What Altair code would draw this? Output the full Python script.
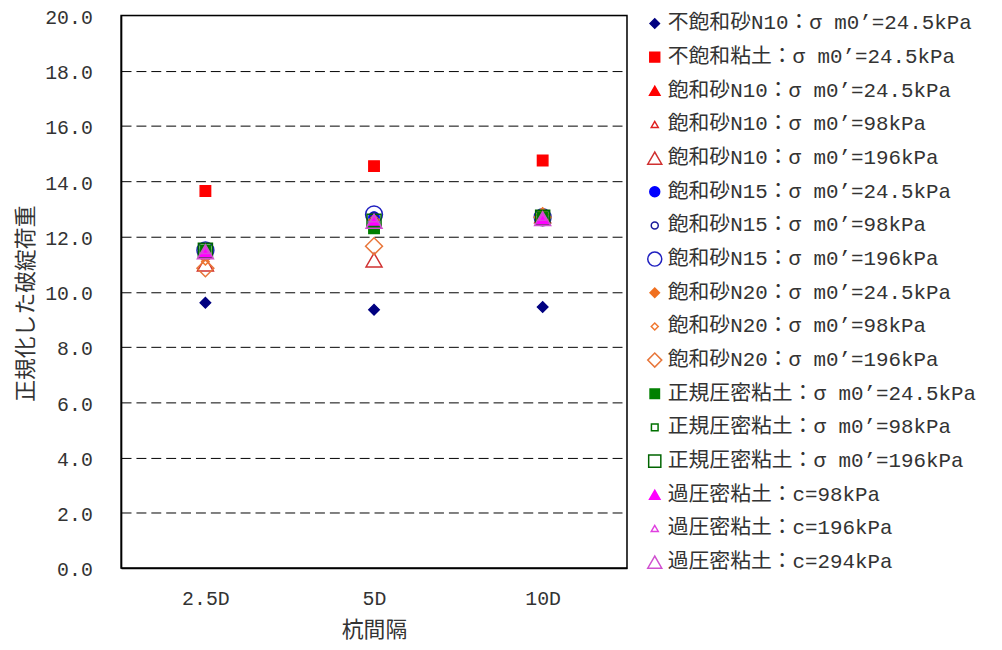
import altair as alt
import pandas as pd

# ---- data ----
categories = ["2.5D", "5D", "10D"]

series_names = [
    "不飽和砂N10：σ m0’=24.5kPa",
    "不飽和粘土：σ m0’=24.5kPa",
    "飽和砂N10：σ m0’=24.5kPa",
    "飽和砂N10：σ m0’=98kPa",
    "飽和砂N10：σ m0’=196kPa",
    "飽和砂N15：σ m0’=24.5kPa",
    "飽和砂N15：σ m0’=98kPa",
    "飽和砂N15：σ m0’=196kPa",
    "飽和砂N20：σ m0’=24.5kPa",
    "飽和砂N20：σ m0’=98kPa",
    "飽和砂N20：σ m0’=196kPa",
    "正規圧密粘土：σ m0’=24.5kPa",
    "正規圧密粘土：σ m0’=98kPa",
    "正規圧密粘土：σ m0’=196kPa",
    "過圧密粘土：c=98kPa",
    "過圧密粘土：c=196kPa",
    "過圧密粘土：c=294kPa",
]

# values at 2.5D, 5D, 10D for each series
series_values = [
    [9.60, 9.35, 9.45],
    [13.65, 14.55, 14.75],
    [11.50, 12.60, 12.75],
    [11.30, 12.50, 12.70],
    [11.00, 11.15, 12.75],
    [11.50, 12.70, 12.70],
    [11.50, 12.75, 12.70],
    [11.50, 12.80, 12.70],
    [11.45, 12.60, 12.85],
    [11.10, 12.50, 12.70],
    [10.85, 11.65, 12.70],
    [11.50, 12.30, 12.70],
    [11.55, 12.50, 12.70],
    [11.50, 12.55, 12.70],
    [11.45, 12.60, 12.65],
    [11.50, 12.65, 12.70],
    [11.45, 12.55, 12.65],
]

# ---- marker styles ----
shapes = ["diamond", "square", "triangle-up", "triangle-up", "triangle-up",
          "circle", "circle", "circle", "diamond", "diamond", "diamond",
          "square", "square", "square", "triangle-up", "triangle-up", "triangle-up"]
strokes = ["#000080", "#FF0000", "#FF0000", "#E02020", "#D03030",
           "#0000FF", "#1A1A9A", "#2020C0", "#F07020", "#F07830", "#E8763A",
           "#008000", "#007000", "#006400", "#FF00FF", "#E040E0", "#D050D0"]
fills = ["#000080", "#FF0000", "#FF0000", "transparent", "transparent",
         "#0000FF", "transparent", "transparent", "#F07020", "transparent", "transparent",
         "#008000", "transparent", "transparent", "#FF00FF", "transparent", "transparent"]
sizes = [110, 110, 130, 55, 260, 110, 55, 290, 110, 55, 290, 110, 50, 200, 140, 55, 260]
legend_sizes = [90, 100, 110, 50, 200, 100, 50, 200, 90, 50, 200, 90, 45, 150, 110, 50, 200]

rows = []
for i, (name, vals) in enumerate(zip(series_names, series_values)):
    for cat, v in zip(categories, vals):
        rows.append({"系列": name, "杭間隔": cat, "値": v, "順": i, "大きさ": sizes[i]})
df = pd.DataFrame(rows)
legend_df = pd.DataFrame({"系列": series_names, "大きさ": legend_sizes})

LATIN_CJK = "Liberation Mono, Noto Sans CJK JP"
TXT = "#333333"
W, H = 510, 557

shape_enc = alt.Shape("系列:N", scale=alt.Scale(domain=series_names, range=shapes), legend=None)
fill_enc = alt.Fill("系列:N", scale=alt.Scale(domain=series_names, range=fills), legend=None)
stroke_enc = alt.Stroke("系列:N", scale=alt.Scale(domain=series_names, range=strokes), legend=None)

points = alt.Chart(df).mark_point(opacity=1, strokeWidth=1.5).encode(
    x=alt.X("杭間隔:N", sort=categories,
            scale=alt.Scale(domain=categories, type="point", padding=0.5),
            axis=alt.Axis(title="杭間隔", labelAngle=0, ticks=False, tickSize=0,
                          labelPadding=21, labelFont=LATIN_CJK, labelFontSize=20,
                          labelColor=TXT, titleFont="Noto Sans CJK JP", titleFontSize=22,
                          titleFontWeight="normal", titleColor=TXT,
                          titleX=255, titleY=62, titleBaseline="middle",
                          domainColor="black", domainWidth=1.5, grid=False)),
    y=alt.Y("値:Q", scale=alt.Scale(domain=[0, 20], nice=False),
            axis=alt.Axis(title="正規化した破綻荷重", values=[0, 2, 4, 6, 8, 10, 12, 14, 16, 18, 20],
                          format=".1f", ticks=False, tickSize=0, labelPadding=29,
                          labelOffset=2,
                          labelFont=LATIN_CJK, labelFontSize=20, labelColor=TXT,
                          titleFont="Noto Sans CJK JP", titleFontSize=22,
                          titleFontWeight="normal", titleColor=TXT,
                          titleX=-96, titleY=290, titleAngle=270,
                          titleAlign="center", titleBaseline="middle",
                          grid=True, gridColor="black", gridDash=[10, 5], gridWidth=1,
                          gridOpacity={"condition": {"test": "datum.value == 0 || datum.value == 20",
                                                     "value": 0}, "value": 1},
                          domainColor="black", domainWidth=1.5)),
    shape=shape_enc, fill=fill_enc, stroke=stroke_enc,
    size=alt.Size("大きさ:Q", scale=None),
    order=alt.Order("順:Q"),
)

frame = alt.Chart(pd.DataFrame({"f": [0]})).mark_rect(
    fillOpacity=0, stroke="black", strokeWidth=1.5
).encode(x=alt.value(0), x2=alt.value(W), y=alt.value(0), y2=alt.value(H))

# legend drawn as its own layer: rows placed by a point scale over the series
legend_y = alt.Y("系列:N", sort=series_names,
                 scale=alt.Scale(domain=series_names, type="point", padding=0, range=[8, 551]),
                 axis=None)

legend_symbols = alt.Chart(legend_df).mark_point(opacity=1, strokeWidth=1.5).encode(
    y=legend_y, x=alt.value(538),
    shape=shape_enc, fill=fill_enc, stroke=stroke_enc,
    size=alt.Size("大きさ:Q", scale=None),
)

legend_text = alt.Chart(legend_df).mark_text(
    align="left", baseline="middle", font=LATIN_CJK, fontSize=21, color=TXT
).encode(y=legend_y, x=alt.value(551), text="系列:N")

chart = alt.layer(frame, points, legend_symbols, legend_text).resolve_scale(
    y="independent"
).properties(
    width=W, height=H,
    autosize=alt.AutoSizeParams(type="none"),
    padding={"left": 114, "top": 5, "right": 370, "bottom": 75},
).configure_view(
    stroke="black", strokeWidth=1.5
).configure(background="white")

chart.save("out.html", embed_options={"renderer": "svg", "actions": False})
